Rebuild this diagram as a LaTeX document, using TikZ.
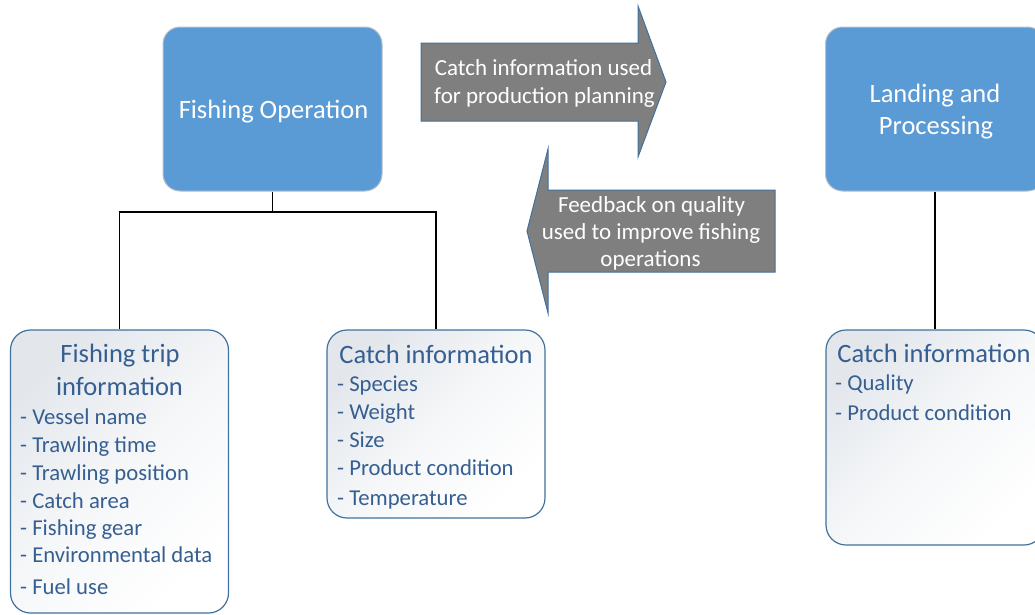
\documentclass[tikz,border=0pt]{standalone}
\usepackage{fontspec}
\setmainfont{Carlito}
\definecolor{opblue}{HTML}{5B9BD5}
\definecolor{edgeblue}{HTML}{41719C}
\definecolor{txtblue}{HTML}{365F91}
\definecolor{arrgray}{HTML}{7F7F7F}
\definecolor{boxgray}{HTML}{E3E7EC}
\definecolor{opedge}{HTML}{B4C0CC}
\begin{document}
\begin{tikzpicture}[x=1pt,y=1pt,
 opbox/.style={draw=opedge, line width=1pt, fill=opblue, rounded corners=17pt, minimum width=219pt, minimum height=164pt, inner sep=0pt},
 infobox/.style={draw=edgeblue, line width=1.2pt, rounded corners=20pt, top color=boxgray, bottom color=white, middle color=boxgray!35!white, shading angle=45, minimum width=218pt, inner sep=0pt},
 optext/.style={anchor=base, inner sep=0pt, text=white, font=\fontsize{26.5}{32}\selectfont},
 ttl/.style={anchor=base, inner sep=0pt, text=txtblue, font=\fontsize{26.5}{32}\selectfont},
 itm/.style={anchor=base west, inner sep=0pt, text=txtblue, font=\fontsize{22.7}{28}\selectfont},
 arrtext/.style={anchor=base, inner sep=0pt, text=white, font=\fontsize{23}{28}\selectfont},
 arr/.style={draw=edgeblue, line width=1pt, fill=arrgray},
 link/.style={draw=black, line width=1.6pt}]
\useasboundingbox (0,0) rectangle (1035,-614);
\clip (0,0) rectangle (1035,-614);

% arrows
\path[arr] (421,-43) -- (638,-43) -- (638,-6) -- (666,-82) -- (638,-157) -- (638,-121) -- (421,-121) -- cycle;
\path[arr] (775,-190) -- (548,-190) -- (548,-149) -- (527,-231) -- (548,-313) -- (548,-272) -- (775,-272) -- cycle;
\node[arrtext] (a1) at (543.5,-75) {Catch information used};
\node[arrtext] (a2) at (544.5,-103) {for production planning};
\node[arrtext] (b1) at (651.5,-212) {Feedback on quality};
\node[arrtext] (b2) at (651,-239) {used to improve fishing};
\node[arrtext] (b3) at (650.5,-266) {operations};

% top boxes
\node[opbox] (fo) at (272.5,-109) {};
\node[optext] (fot) at (273.5,-118) {Fishing Operation};
\node[opbox] (lp) at (935,-109) {};
\node[optext] (lpt1) at (935,-102) {Landing and};
\node[optext] (lpt2) at (936,-134) {Processing};

% info boxes
\node[infobox, minimum height=283pt] (ft) at (119.5,-471.5) {};
\node[infobox, minimum height=188pt] (ci) at (436,-424) {};
\node[infobox, minimum height=215pt] (ci2) at (935,-437.5) {};

% connectors
\coordinate (bus) at (272.5,-212);
\draw[link] (fo.south) -- (bus);
\draw[link] (ft.north) |- (bus) -| (ci.north);
\draw[link] (lp.south) -- (ci2.north);

% fishing trip text
\node[ttl] (ftt1) at (120,-362.7) {Fishing trip};
\node[ttl] (ftt2) at (119.5,-395) {information};
\node[itm] (ft1) at (20,-424) {- Vessel name};
\node[itm] (ft2) at (20,-452) {- Trawling time};
\node[itm] (ft3) at (20,-480) {- Trawling position};
\node[itm] (ft4) at (20,-508) {- Catch area};
\node[itm] (ft5) at (20,-535) {- Fishing gear};
\node[itm] (ft6) at (20,-562.5) {- Environmental data};
\node[itm] (ft7) at (20,-594) {- Fuel use};

% catch info text
\node[ttl] (cit) at (436,-363) {Catch information};
\node[itm] (ci1) at (337,-391.7) {- Species};
\node[itm] (ci3) at (337,-419.5) {- Weight};
\node[itm] (ci4) at (337,-447.5) {- Size};
\node[itm] (ci5) at (337,-475) {- Product condition};
\node[itm] (ci6) at (337,-505.7) {- Temperature};

% right catch info text
\node[ttl] (ci2t) at (934,-362) {Catch information};
\node[itm] (cr1) at (835,-390) {- Quality};
\node[itm] (cr2) at (835,-420) {- Product condition};
\end{tikzpicture}
\end{document}
